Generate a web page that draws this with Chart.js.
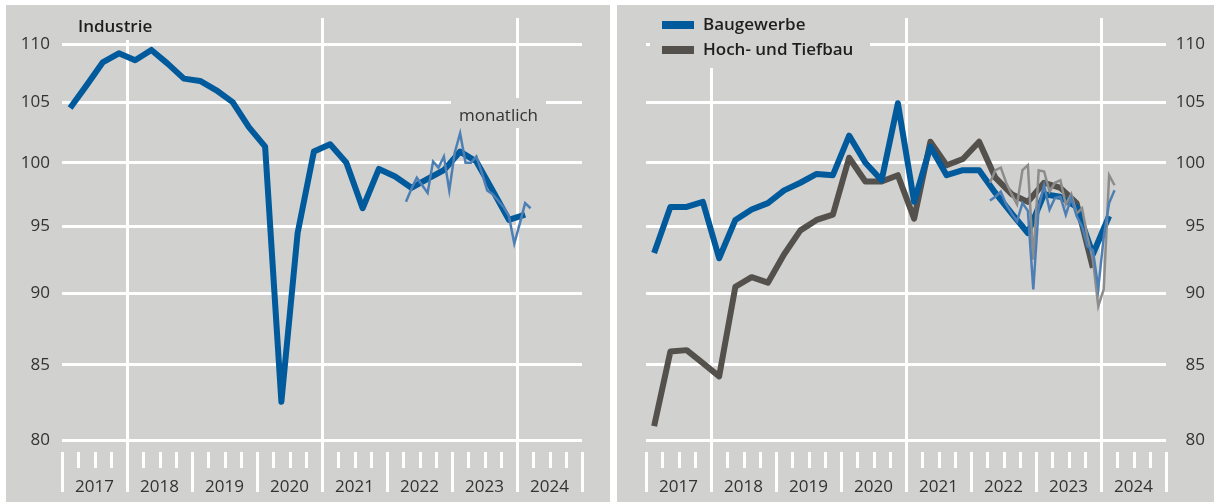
<!DOCTYPE html>
<html lang="de">
<head>
<meta charset="utf-8">
<title>Industrie und Baugewerbe</title>
<script src="https://cdn.jsdelivr.net/npm/chart.js@4.4.1/dist/chart.umd.min.js"></script>
<style>
  body { margin: 0; background: #fff; width: 1214px; height: 502px; position: relative; overflow: hidden; }
  .panel { position: absolute; top: 5px; height: 497px; background: #d1d1d0; }
  #left { left: 6px; width: 604px; }
  #right { left: 617px; width: 597px; }
  canvas { display: block; }
</style>
</head>
<body>
<div class="panel" id="left"><canvas id="chartIndustrie" width="604" height="497"></canvas></div>
<div class="panel" id="right"><canvas id="chartBau" width="597" height="497"></canvas></div>
<script>
// Quarterly series start in 2017 Q1, monthly series in April 2022
const years = ['2017', '2018', '2019', '2020', '2021', '2022', '2023', '2024'];
const yTicks = [80, 85, 90, 95, 100, 105, 110];
const gridYears = [2018, 2021, 2024];
const monthStart = 63; // months after January 2017

const industrieQuartal = [104.5, 106.4, 108.4, 109.2, 108.6, 109.5, 108.3, 107.0, 106.8, 106.0,
  105.0, 102.9, 101.3, 82.5, 94.5, 100.9, 101.5, 100.0, 96.4, 99.5,
  98.9, 98.0, 98.7, 99.4, 100.9, 100.1, 97.8, 95.5, 95.9];
const industrieMonat = [96.9, 97.9, 98.8, 98.2, 97.6, 100.1, 99.6, 100.5, 97.8, 100.8, 102.4, 100.0,
  100.0, 100.5, 99.2, 97.8, 97.5, 97.0, 96.5, 95.8, 93.7, 95.2, 96.8, 96.4];

const bauQuartal = [93.0, 96.5, 96.5, 96.9, 92.6, 95.5, 96.3, 96.8, 97.8, 98.4,
  99.1, 99.0, 102.2, 100.0, 98.6, 104.9, 96.9, 101.3, 99.0, 99.4,
  99.4, 97.6, 96.0, 94.5, 97.5, 97.3, 96.5, 92.9, 95.8];
const tiefbauQuartal = [80.9, 85.9, 86.0, 85.1, 84.2, 90.5, 91.2, 90.8, 92.9, 94.7,
  95.5, 95.9, 100.4, 98.5, 98.5, 99.0, 95.6, 101.7, 99.8, 100.3,
  101.7, 98.8, 97.5, 96.9, 98.4, 98.0, 96.8, 91.9];
const bauMonat = [97.0, 97.3, 97.7, 96.7, 96.0, 95.4, 96.8, 96.2, 90.3, 96.5, 98.2, 96.3,
  97.2, 97.3, 95.9, 97.2, 95.8, 95.0, 93.5, 93.2, 90.4, 94.2, 96.8, 97.8];
const tiefbauMonat = [98.4, 99.4, 99.6, 98.4, 97.5, 96.7, 99.4, 99.8, 92.5, 99.4, 99.3, 97.7,
  98.4, 98.6, 96.7, 97.5, 96.0, 96.4, 94.2, 92.5, 89.1, 90.3, 99.0, 98.2];

const BG = '#d1d1d0';
const BLUE = '#005a9b';
const BLUE_LIGHT = '#4d7fb4';
const GREY = '#54514d';
const GREY_LIGHT = '#8c8c8c';

Chart.defaults.font.family = '"Open Sans", sans-serif';
Chart.defaults.font.size = 17;
Chart.defaults.color = '#333';

// x runs in quarters from 2017 Q1; each point sits mid-period
const quarterPoints = vals => vals.map((v, i) => ({ x: i + 0.5, y: v }));
const monthPoints = vals => vals.map((v, i) => ({ x: (monthStart + i + 0.5) / 3, y: v }));

// quarter ticks, year ticks and year labels under the plot
const yearAxis = {
  id: 'yearAxis',
  afterDraw(chart) {
    const { ctx, chartArea, scales: { x } } = chart;
    const top = chartArea.bottom + 12, shortEnd = top + 16, longEnd = top + 40;
    ctx.save();
    ctx.strokeStyle = '#fff';
    ctx.lineWidth = 3;
    for (let q = 0; q <= years.length * 4; q++) {
      const px = Math.round(x.getPixelForValue(q)) + 0.5;
      const isYear = q % 4 === 0;
      const isGrid = isYear && gridYears.includes(2017 + q / 4);
      ctx.beginPath();
      ctx.moveTo(px, isGrid ? chartArea.bottom : top);
      ctx.lineTo(px, isYear ? longEnd : shortEnd);
      ctx.stroke();
    }
    ctx.fillStyle = '#333';
    ctx.font = '17px "Open Sans"';
    ctx.textAlign = 'center';
    ctx.textBaseline = 'alphabetic';
    years.forEach((yr, i) => ctx.fillText(yr, x.getPixelForValue(i * 4 + 2), longEnd));
    ctx.restore();
  }
};

const industrieLabels = {
  id: 'industrieLabels',
  beforeDatasetsDraw(chart) {
    const { ctx } = chart;
    ctx.save();
    ctx.fillStyle = BG;
    ctx.fillRect(64, 0, 90, 35);
    ctx.fillRect(445, 93, 95, 30);
    ctx.fillStyle = '#1e1e1e';
    ctx.font = '600 17px "Open Sans"';
    ctx.fillText('Industrie', 72, 27);
    ctx.fillStyle = '#333';
    ctx.font = '17px "Open Sans"';
    ctx.fillText('monatlich', 453, 116);
    ctx.restore();
  }
};

const bauLegend = {
  id: 'bauLegend',
  beforeDatasetsDraw(chart) {
    const { ctx } = chart;
    ctx.save();
    ctx.fillStyle = BG;
    ctx.fillRect(33, 0, 220, 63);
    const items = [['Baugewerbe', BLUE, 20], ['Hoch- und Tiefbau', GREY, 45]];
    ctx.font = '600 17px "Open Sans"';
    ctx.textBaseline = 'middle';
    items.forEach(([label, color, y]) => {
      ctx.fillStyle = color;
      ctx.fillRect(45, y - 4, 32, 8);
      ctx.fillStyle = '#1e1e1e';
      ctx.fillText(label, 86, y);
    });
    ctx.restore();
  }
};

function makeOptions(side, padding) {
  return {
    responsive: false,
    animation: false,
    layout: { padding },
    plugins: { legend: { display: false }, tooltip: { enabled: false } },
    elements: { point: { radius: 0 }, line: { tension: 0 } },
    scales: {
      x: {
        type: 'linear', min: 0, max: years.length * 4,
        afterBuildTicks: s => { s.ticks = gridYears.map(yr => ({ value: (yr - 2017) * 4 })); },
        afterFit: s => { s.height = 0; },
        ticks: { display: false },
        grid: { color: '#fff', lineWidth: 3, drawTicks: false },
        border: { display: false }
      },
      y: {
        type: 'logarithmic', position: side, min: 80, max: 112.35,
        afterBuildTicks: s => { s.ticks = yTicks.map(v => ({ value: v })); },
        // fixed axis width; plot area edges come from layout.padding alone
        afterFit: s => {
          s.width = side === 'left' ? 56 : 39;
          s.paddingTop = 0;
          s.paddingBottom = 0;
        },
        ticks: {
          padding: 12,
          color: '#333',
          crossAlign: side === 'left' ? 'near' : 'far',
          callback: v => String(v)
        },
        grid: { color: '#fff', lineWidth: 3, drawTicks: false },
        border: { display: false }
      }
    }
  };
}

new Chart(document.getElementById('chartIndustrie'), {
  type: 'line',
  data: {
    datasets: [
      { label: 'monatlich', data: monthPoints(industrieMonat), borderColor: BLUE_LIGHT,
        borderWidth: 2.5, borderJoinStyle: 'miter', order: 0 },
      { label: 'Industrie', data: quarterPoints(industrieQuartal), borderColor: BLUE,
        borderWidth: 6, borderJoinStyle: 'round', order: 1 }
    ]
  },
  options: makeOptions('left', { left: 0, right: 28, top: 13, bottom: 62 }),
  plugins: [yearAxis, industrieLabels]
});

new Chart(document.getElementById('chartBau'), {
  type: 'line',
  data: {
    datasets: [
      { label: 'Baugewerbe monatlich', data: monthPoints(bauMonat), borderColor: BLUE_LIGHT,
        borderWidth: 2.5, borderJoinStyle: 'miter', order: 0 },
      { label: 'Hoch- und Tiefbau monatlich', data: monthPoints(tiefbauMonat), borderColor: GREY_LIGHT,
        borderWidth: 2.5, borderJoinStyle: 'miter', order: 1 },
      { label: 'Baugewerbe', data: quarterPoints(bauQuartal), borderColor: BLUE,
        borderWidth: 6, borderJoinStyle: 'round', order: 2 },
      { label: 'Hoch- und Tiefbau', data: quarterPoints(tiefbauQuartal), borderColor: GREY,
        borderWidth: 6, borderJoinStyle: 'round', order: 3 }
    ]
  },
  options: makeOptions('right', { left: 29, right: 9, top: 13, bottom: 62 }),
  plugins: [yearAxis, bauLegend]
});
</script>
</body>
</html>
